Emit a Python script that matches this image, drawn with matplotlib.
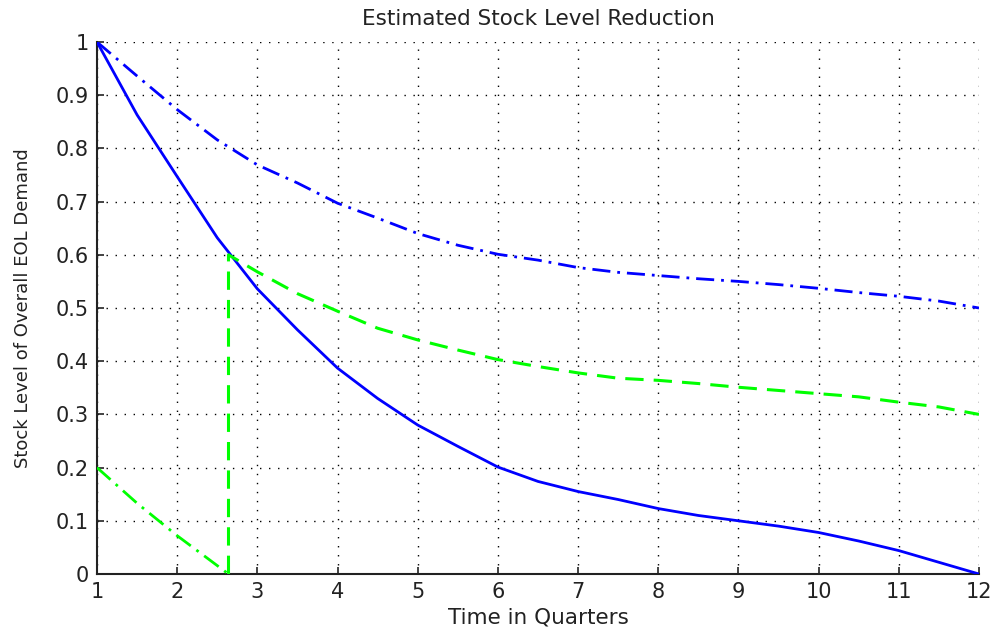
import matplotlib
matplotlib.use("Agg")
import matplotlib.pyplot as plt

plt.rcParams['font.family'] = ['DejaVu Sans']

quarters = [1, 1.5, 2, 2.5, 3, 3.5, 4, 4.5, 5, 5.5, 6, 6.5, 7, 7.5, 8, 8.5, 9, 9.5, 10, 10.5, 11, 11.5, 12]
stock_actual = [1.0, 0.863, 0.747, 0.632, 0.536, 0.459, 0.387, 0.330, 0.280, 0.240, 0.201, 0.174,
                0.155, 0.140, 0.123, 0.110, 0.100, 0.090, 0.078, 0.062, 0.044, 0.022, 0.0]
stock_planned = [1.0, 0.936, 0.873, 0.816, 0.769, 0.735, 0.697, 0.669, 0.640, 0.618, 0.601, 0.590,
                 0.576, 0.567, 0.561, 0.555, 0.550, 0.544, 0.537, 0.529, 0.522, 0.513, 0.500]

switch_x = 2.64
green_dash_x = [switch_x, switch_x, 3, 3.5, 4, 4.5, 5, 5.5, 6, 6.5, 7, 7.5, 8, 8.5, 9, 9.5, 10, 10.5, 11, 11.5, 12]
green_dash_y = [0.0, 0.600, 0.568, 0.527, 0.494, 0.462, 0.440, 0.421, 0.403, 0.390, 0.378, 0.368,
                0.364, 0.358, 0.351, 0.345, 0.339, 0.333, 0.323, 0.314, 0.300]

green_dd_x = [1, 1.5, 2, switch_x]
green_dd_y = [0.2, 0.133, 0.072, 0.0]

xticks = list(range(1, 13))
yticks = [0, 0.1, 0.2, 0.3, 0.4, 0.5, 0.6, 0.7, 0.8, 0.9, 1]
yticklabels = ['0', '0.1', '0.2', '0.3', '0.4', '0.5', '0.6', '0.7', '0.8', '0.9', '1']

fig = plt.figure(figsize=(9.92, 6.30), dpi=100)
ax = fig.add_axes([97/992, 56/630, (979-97)/992, (574-42)/630])

dashdot = (0, (6.5, 2.5, 1, 2.5))
ax.plot(quarters, stock_planned, color='#0000ff', lw=2.0, linestyle=dashdot, zorder=3)
ax.plot(quarters, stock_actual, color='#0000ff', lw=2.0, linestyle='-', zorder=3)
ax.plot(green_dash_x, green_dash_y, color='#00ff00', lw=2.2, linestyle=(0, (6, 3.3)), zorder=3)
ax.plot(green_dd_x, green_dd_y, color='#00ff00', lw=2.0, linestyle=dashdot, zorder=3)

ax.set_xlim(1, 12)
ax.set_ylim(0, 1)
ax.set_xticks(xticks)
ax.set_yticks(yticks)
ax.set_yticklabels(yticklabels)
ax.grid(True, color='black', linestyle=(0, (1, 5.5)), lw=1.0)
ax.set_axisbelow(True)

for s in ['top', 'right']:
    ax.spines[s].set_visible(False)
for s in ['left', 'bottom']:
    ax.spines[s].set_linewidth(1.5)
    ax.spines[s].set_color('#222222')

ax.tick_params(direction='in', length=5, width=1.2, labelsize=15, colors='#222222', pad=6)

ax.set_title('Estimated Stock Level Reduction', fontsize=15.5, color='#222222', pad=12)
ax.set_xlabel('Time in Quarters', fontsize=15.5, color='#222222')
ax.set_ylabel('Stock Level of Overall EOL Demand', fontsize=13, color='#222222')
ax.yaxis.set_label_coords(-0.074, 0.5)
ax.xaxis.set_label_coords(0.5, -0.063)

fig.savefig('out.png', dpi=100)
